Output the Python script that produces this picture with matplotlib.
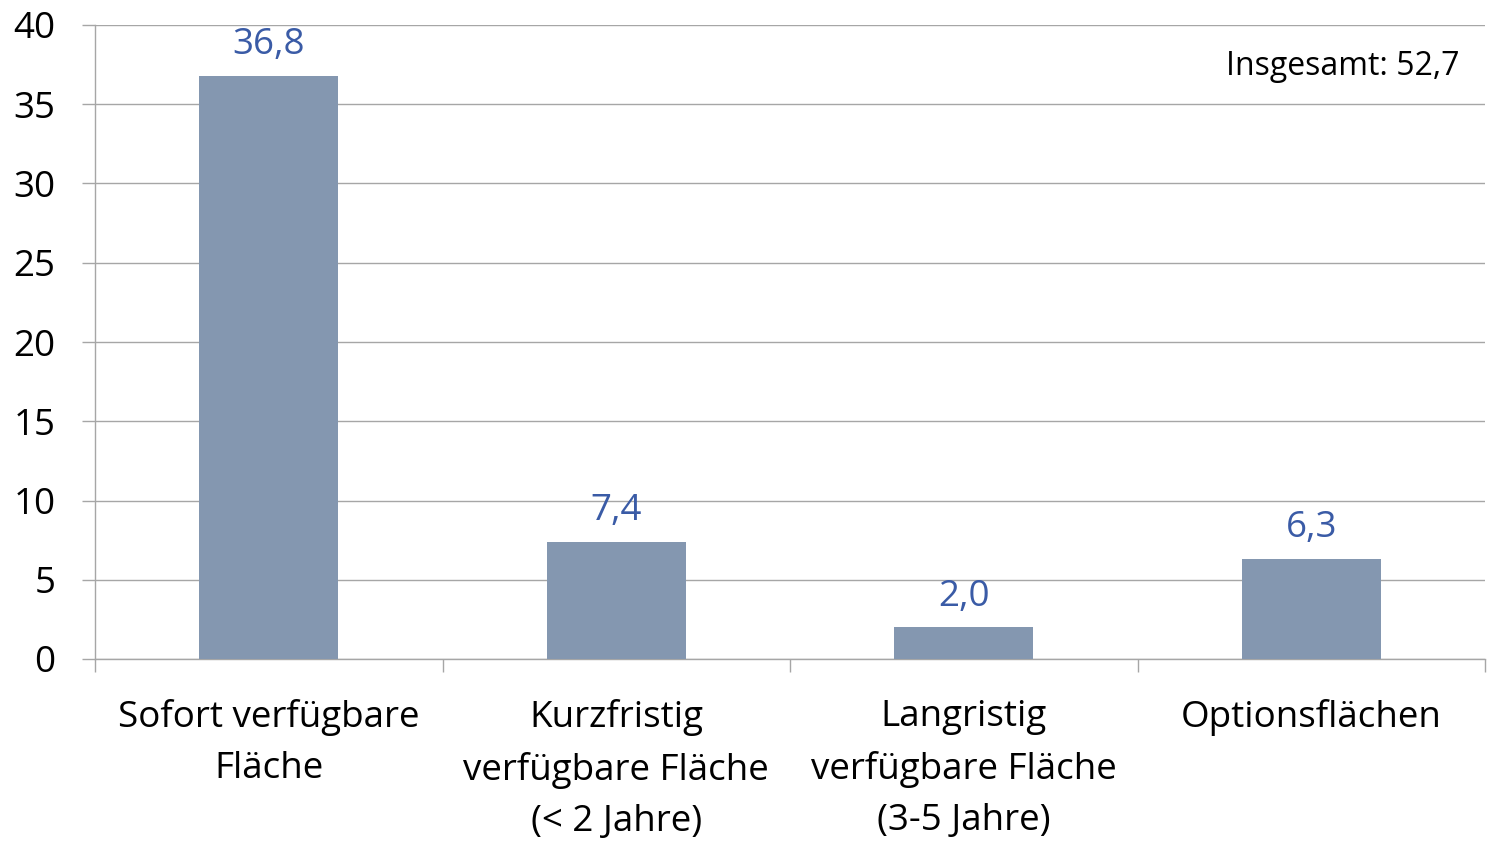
import matplotlib.pyplot as plt
import numpy as np

# values
categories = ["Sofort verfügbare\nFläche",
              "Kurzfristig\nverfügbare Fläche\n(< 2 Jahre)",
              "Langristig\nverfügbare Fläche\n(3-5 Jahre)",
              "Optionsflächen"]
values = [36.8, 7.4, 2.0, 6.3]
value_labels = ["36,8", "7,4", "2,0", "6,3"]
total_label = "Insgesamt: 52,7"
yticks = [0, 5, 10, 15, 20, 25, 30, 35, 40]

plt.rcParams['font.family'] = ['Open Sans', 'DejaVu Sans']

bar_color = "#8497B0"
label_color = "#3A5BA6"
grid_color = "#A6A6A6"
fs = 26.5

fig = plt.figure(figsize=(14.9, 8.41), dpi=100)
ax = fig.add_axes([95/1490, 1 - 659/841, (1485 - 95)/1490, (659 - 25)/841])

x = np.arange(len(categories))
ax.bar(x, values, width=0.4, color=bar_color, zorder=3)

for xi, v, lab in zip(x, values, value_labels):
    ax.text(xi, v + 0.8, lab, ha='center', va='bottom', fontsize=fs,
            color=label_color, zorder=4)

ax.text(0.982, 0.934, total_label, transform=ax.transAxes, ha='right',
        va='center', fontsize=23, color='black')

ax.set_xlim(-0.5, len(categories) - 0.5)
ax.set_ylim(0, 40)
ax.set_yticks(yticks)
ax.set_yticklabels([str(t) for t in yticks], fontsize=fs)

ax.set_xticks(x)
ax.set_xticklabels(categories, fontsize=fs, linespacing=1.58)
ax.set_xticks(np.arange(len(categories) + 1) - 0.5, minor=True)
ax.tick_params(axis='x', which='major', length=0, pad=28.5)
ax.tick_params(axis='x', which='minor', length=9.4, color=grid_color, width=1.0)
ax.tick_params(axis='y', length=9.4, color=grid_color, width=1.0, pad=19)

ax.yaxis.grid(True, color=grid_color, linewidth=1.0, zorder=0)
for s in ['top', 'right']:
    ax.spines[s].set_visible(False)
ax.spines['left'].set_color(grid_color)
ax.spines['bottom'].set_color(grid_color)
ax.spines['left'].set_linewidth(1.0)
ax.spines['bottom'].set_linewidth(1.0)

fig.savefig("out.png", dpi=100)
